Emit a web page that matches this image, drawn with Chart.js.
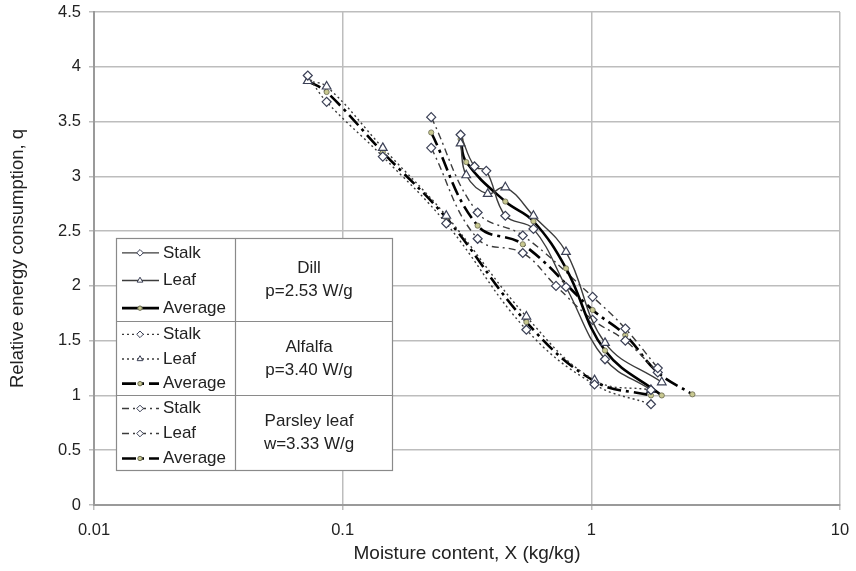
<!DOCTYPE html>
<html><head><meta charset="utf-8">
<script src="https://cdn.jsdelivr.net/npm/chart.js@4"></script>
<style>html,body{margin:0;padding:0;background:#fff}</style>
</head><body>
<canvas id="c" width="856" height="571"></canvas>
<script>
// ---- data ----
const xTickValues = [0.01, 0.1, 1, 10];
const xTickLabels = ['0.01', '0.1', '1', '10'];
const yTickLabels = ['0', '0.5', '1', '1.5', '2', '2.5', '3', '3.5', '4', '4.5'];

const dillStalkX = [0.298, 0.339, 0.378, 0.451, 0.585, 0.791, 1.135, 1.737];
const dillStalkQ = [3.38, 3.09, 3.05, 2.64, 2.52, 1.99, 1.33, 1.05];
const dillLeafX  = [0.298, 0.314, 0.383, 0.451, 0.585, 0.791, 1.135, 1.92];
const dillLeafQ  = [3.30, 3.01, 2.84, 2.90, 2.64, 2.31, 1.48, 1.12];
const dillAvgX   = [0.298, 0.314, 0.451, 0.585, 0.791, 1.135, 1.92];
const dillAvgQ   = [3.34, 3.13, 2.77, 2.59, 2.16, 1.41, 1.00];

const alfStalkX = [0.0724, 0.0862, 0.145, 0.261, 0.548, 1.03, 1.737];
const alfStalkQ = [3.92, 3.68, 3.18, 2.57, 1.60, 1.10, 0.92];
const alfLeafX  = [0.0724, 0.0862, 0.145, 0.261, 0.548, 1.03, 1.737];
const alfLeafQ  = [3.87, 3.82, 3.26, 2.64, 1.72, 1.14, 1.05];
const alfAvgX   = [0.0724, 0.0862, 0.145, 0.261, 0.548, 1.03, 1.737];
const alfAvgQ   = [3.87, 3.77, 3.22, 2.62, 1.67, 1.13, 1.00];

const parStalkX = [0.227, 0.349, 0.530, 1.012, 1.37, 1.85];
const parStalkQ = [3.54, 2.67, 2.46, 1.90, 1.61, 1.25];
const parLeafX  = [0.227, 0.349, 0.530, 0.721, 1.012, 1.37, 1.85];
const parLeafQ  = [3.26, 2.43, 2.30, 2.00, 1.69, 1.50, 1.21];
const parAvgX   = [0.227, 0.349, 0.530, 1.012, 1.37, 1.85, 2.55];
const parAvgQ   = [3.40, 2.55, 2.38, 1.78, 1.55, 1.21, 1.01];

const groupLabels = [['Dill', 'p=2.53 W/g'], ['Alfalfa', 'p=3.40 W/g'], ['Parsley leaf', 'w=3.33 W/g']];
const entryLabels = ['Stalk', 'Leaf', 'Average'];

// ---- styles ----
const FONT = '"Liberation Sans", Arial, sans-serif';
const MK = '#3b4056';
const AVG_FILL = '#c8c890';
const pts = (xs, ys) => xs.map((x, i) => ({x, y: ys[i]}));

function thin(label, xs, ys, dash, style) {
  return {label, data: pts(xs, ys), borderColor: '#3c3c3c', borderWidth: 1.4, borderDash: dash,
    pointStyle: style, pointRadius: style === 'triangle' ? 5 : 4.5, pointBackgroundColor: '#fff',
    pointBorderColor: MK, pointBorderWidth: 1.2, tension: 0.4, fill: false};
}
function avg(label, xs, ys, dash) {
  return {label, data: pts(xs, ys), borderColor: '#000', borderWidth: 2.6, borderDash: dash,
    pointStyle: 'circle', pointRadius: 2.6, pointBackgroundColor: AVG_FILL,
    pointBorderColor: '#6a6a50', pointBorderWidth: 0.8, tension: 0.4, fill: false};
}
const DOT = [2, 3];
const DASHDOT = [7, 4, 2, 4];
const LONGDASHDOT = [14, 5, 3, 5];

const datasets = [
  thin('Dill Stalk', dillStalkX, dillStalkQ, [], 'rectRot'),
  thin('Dill Leaf', dillLeafX, dillLeafQ, [], 'triangle'),
  avg('Dill Average', dillAvgX, dillAvgQ, []),
  thin('Alfalfa Stalk', alfStalkX, alfStalkQ, DOT, 'rectRot'),
  thin('Alfalfa Leaf', alfLeafX, alfLeafQ, DOT, 'triangle'),
  avg('Alfalfa Average', alfAvgX, alfAvgQ, LONGDASHDOT),
  thin('Parsley Stalk', parStalkX, parStalkQ, DASHDOT, 'rectRot'),
  thin('Parsley Leaf', parLeafX, parLeafQ, DASHDOT, 'rectRot'),
  avg('Parsley Average', parAvgX, parAvgQ, LONGDASHDOT),
];

// custom boxed legend
const boxLegend = {
  id: 'boxLegend',
  afterDraw(chart) {
    const ctx = chart.ctx;
    const L = 116, R = 392, T = 238, B = 470, D = 235;
    const seps = [T, 321, 395, B];
    ctx.save();
    ctx.fillStyle = '#fff';
    ctx.fillRect(L, T, R - L, B - T);
    ctx.strokeStyle = '#8a8a8a';
    ctx.lineWidth = 1.2;
    ctx.strokeRect(L + 0.5, T + 0.5, R - L, B - T);
    ctx.beginPath();
    ctx.moveTo(D + 0.5, T); ctx.lineTo(D + 0.5, B);
    seps.slice(1, 3).forEach(y => { ctx.moveTo(L, y + 0.5); ctx.lineTo(R, y + 0.5); });
    ctx.stroke();
    ctx.font = '17px ' + FONT;
    ctx.fillStyle = '#222';
    for (let g = 0; g < 3; g++) {
      const top = seps[g], bot = seps[g + 1];
      for (let k = 0; k < 3; k++) {
        const ds = chart.data.datasets[g * 3 + k];
        const y = top + (bot - top) * (k + 0.5) / 3 + 1;
        ctx.save();
        ctx.strokeStyle = ds.borderColor;
        ctx.lineWidth = ds.borderWidth;
        ctx.setLineDash(ds.borderDash || []);
        ctx.beginPath(); ctx.moveTo(122, y); ctx.lineTo(159, y); ctx.stroke();
        ctx.setLineDash([]);
        ctx.fillStyle = ds.pointBackgroundColor; ctx.strokeStyle = ds.pointBorderColor; ctx.lineWidth = 1;
        Chart.helpers.drawPoint(ctx, {pointStyle: ds.pointStyle, radius: ds.pointStyle === 'circle' ? 2.2 : 3.3, borderWidth: 1}, 140, y);
        ctx.restore();
        ctx.textAlign = 'left'; ctx.textBaseline = 'middle';
        ctx.fillText(entryLabels[k], 163, y);
      }
      const cx = 309, cy = (top + bot) / 2;
      ctx.textAlign = 'center'; ctx.textBaseline = 'middle';
      ctx.fillText(groupLabels[g][0], cx, cy - 11);
      ctx.fillText(groupLabels[g][1], cx, cy + 12);
    }
    ctx.restore();
  }
};

new Chart(document.getElementById('c'), {
  type: 'line',
  data: {datasets},
  plugins: [boxLegend],
  options: {
    responsive: false, animation: false, devicePixelRatio: 1,
    layout: {padding: {left: 0, right: 16, top: 12, bottom: 0}},
    plugins: {legend: {display: false}, tooltip: {enabled: false}},
    scales: {
      x: {
        type: 'logarithmic', min: 0.01, max: 10,
        afterBuildTicks: s => { s.ticks = xTickValues.map(v => ({value: v})); },
        afterFit: s => { s.height = 66; s.paddingLeft = 0; s.paddingRight = 0; },
        ticks: {color: '#222', font: {family: FONT, size: 16.5}, padding: 11, maxRotation: 0, autoSkip: false,
          callback: (v) => { const i = xTickValues.indexOf(v); return i >= 0 ? xTickLabels[i] : ''; }},
        grid: {color: '#bdbdbd', lineWidth: 1.5, tickLength: 5},
        border: {color: '#9a9a9a', width: 2},
        title: {display: true, text: 'Moisture content, X (kg/kg)', color: '#222', font: {family: FONT, size: 19}, padding: {top: 0, bottom: 6}}
      },
      y: {
        min: 0, max: 4.5,
        afterFit: s => { s.width = 94; s.paddingTop = 0; s.paddingBottom = 0; },
        ticks: {stepSize: 0.5, color: '#222', font: {family: FONT, size: 16.5}, padding: 8,
          callback: (v) => yTickLabels[Math.round(v * 2)]},
        grid: {color: '#bdbdbd', lineWidth: 1.5, tickLength: 5},
        border: {color: '#9a9a9a', width: 2},
        title: {display: true, text: 'Relative energy consumption, q', color: '#222', font: {family: FONT, size: 18.5}, padding: {top: 7, bottom: 0}}
      }
    }
  }
});
</script>
</body></html>
